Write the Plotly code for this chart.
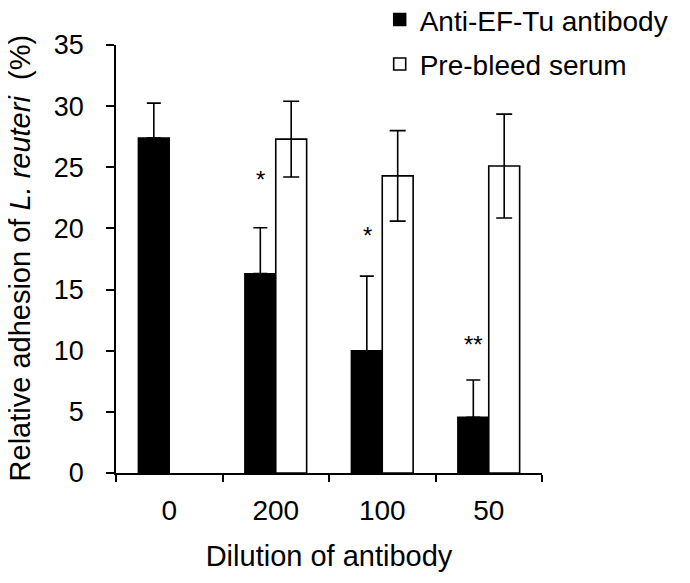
import plotly.graph_objects as go

categories = ["0", "200", "100", "50"]
anti_ef_tu = [27.4, 16.3, 10.0, 4.55]
anti_ef_tu_err = [2.85, 3.75, 6.1, 3.05]
pre_bleed = [None, 27.3, 24.3, 25.1]
pre_bleed_err = [None, 3.1, 3.7, 4.25]
sig_labels = ["", "*", "*", "**"]
sig_y = [None, 24.0, 19.4, 10.5]

FONT = "Arial, 'Liberation Sans', Helvetica, sans-serif"

fig = go.Figure()
fig.add_trace(go.Bar(
    name="Anti-EF-Tu antibody", x=categories, y=anti_ef_tu, legendgroup="a",
    marker=dict(color="black", line=dict(color="black", width=1.5)),
    error_y=dict(type="data", symmetric=False, array=anti_ef_tu_err,
                 arrayminus=[0] * len(anti_ef_tu_err),
                 color="black", thickness=1.6, width=7),
))
fig.add_trace(go.Bar(
    name="Pre-bleed serum", x=categories, y=pre_bleed, legendgroup="b",
    marker=dict(color="white", line=dict(color="black", width=1.6)),
    error_y=dict(type="data", array=pre_bleed_err,
                 color="black", thickness=1.6, width=8),
))

for i, (s, yv) in enumerate(zip(sig_labels, sig_y)):
    if s:
        fig.add_annotation(x=i, y=yv, xref="x", yref="y", text=s, showarrow=False,
                           xshift=-15, font=dict(size=24, color="black", family=FONT))

fig.add_annotation(
    x=-0.226, y=0.503, xref="paper", yref="paper", xanchor="center", yanchor="middle",
    text="Relative adhesion of <i>L. reuteri</i>  (%)", textangle=-90, showarrow=False,
    font=dict(size=29, family=FONT, color="black"),
)

fig.update_layout(
    width=690, height=583,
    margin=dict(l=108, r=156, t=37, b=118, autoexpand=False),
    paper_bgcolor="white", plot_bgcolor="white",
    barmode="group", bargap=0.42, bargroupgap=0,
    font=dict(family=FONT, color="black", size=27),
    showlegend=True,
    legend=dict(x=0.619, y=1.117, xanchor="left", yanchor="top",
                traceorder="grouped", tracegroupgap=5,
                font=dict(size=28, family=FONT, color="black"),
                bgcolor="rgba(0,0,0,0)", itemclick=False),
    xaxis=dict(type="category", range=[-0.5, 3.5], tickson="boundaries", ticks="outside", ticklen=7,
               tickwidth=1.6, tickcolor="black", showline=True, linecolor="black",
               linewidth=1.6, showgrid=False, zeroline=False, automargin=False,
               ticklabelstandoff=12,
               tickfont=dict(size=28, family=FONT),
               title=dict(text="Dilution of antibody", font=dict(size=29, family=FONT), standoff=20)),
    yaxis=dict(range=[0, 35], tickvals=[0, 5, 10, 15, 20, 25, 30, 35], ticks="outside",
               ticklen=8, tickwidth=1.6, tickcolor="black", showline=True, automargin=False,
               linecolor="black", linewidth=1.6, showgrid=False, zeroline=False,
               ticklabelstandoff=17,
               tickfont=dict(size=27, family=FONT)),
)

fig.write_html("out.html")
